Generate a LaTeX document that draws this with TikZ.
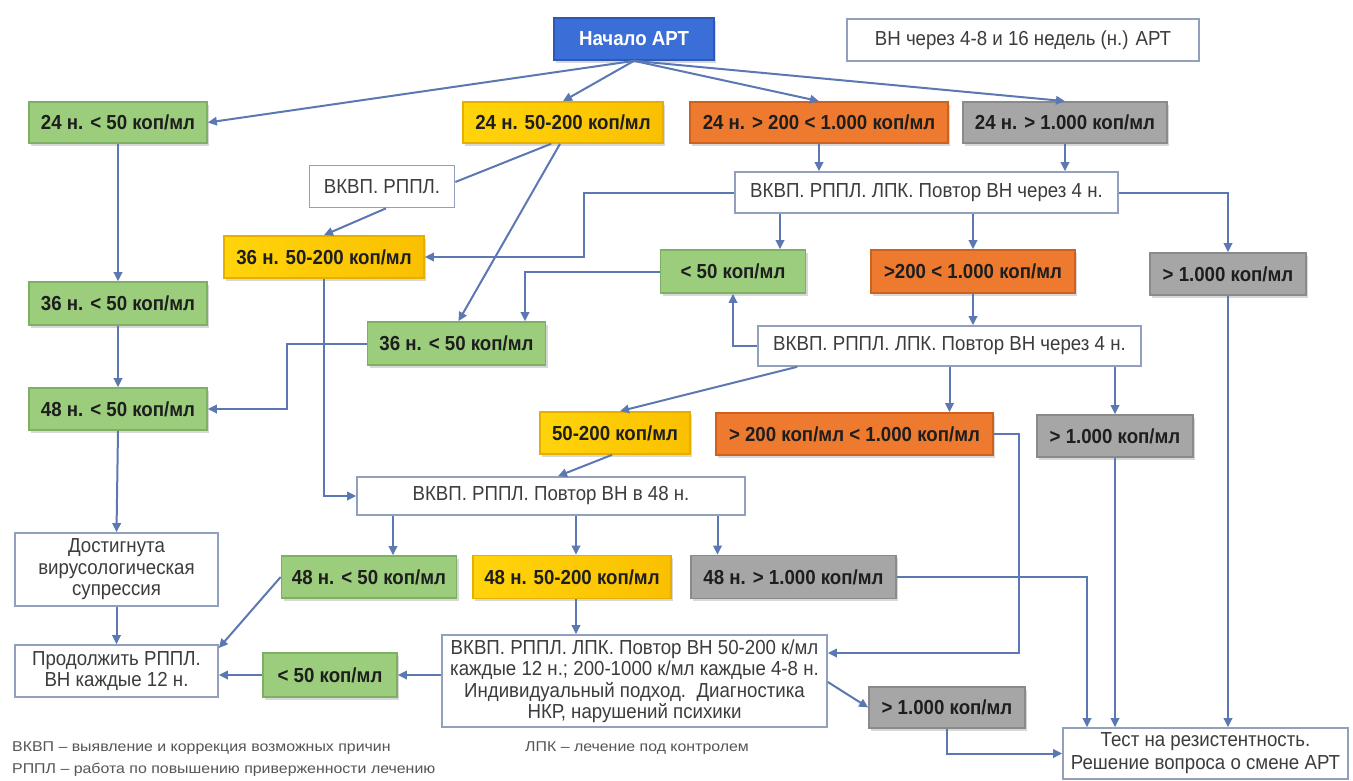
\documentclass[tikz,border=0pt]{standalone}
\usepackage{fontspec}
\setmainfont{Liberation Sans}[FakeStretch=0.92]
\newfontfamily\legfont{Liberation Sans}[FakeStretch=1.12]
\usetikzlibrary{arrows.meta,shadows}
\definecolor{cgreen}{RGB}{155,205,125}
\definecolor{cgreenb}{RGB}{125,175,100}
\definecolor{cyellow}{RGB}{255,212,10}
\definecolor{cyellow2}{RGB}{250,192,0}
\definecolor{cyellowb}{RGB}{230,175,0}
\definecolor{corange}{RGB}{238,122,48}
\definecolor{corangeb}{RGB}{205,98,32}
\definecolor{cgray}{RGB}{166,166,166}
\definecolor{cgrayb}{RGB}{138,138,138}
\definecolor{cblue}{RGB}{60,110,215}
\definecolor{cblueb}{RGB}{45,88,180}
\definecolor{cline}{RGB}{92,120,178}
\definecolor{cwb}{RGB}{145,160,188}
\definecolor{ctext}{RGB}{30,30,30}
\definecolor{cwtext}{RGB}{60,60,60}
\definecolor{clegend}{RGB}{85,85,85}
\newcommand\myfs{\fontsize{20.3}{21.5}\selectfont}
\tikzset{
  base/.style={inner sep=0pt, align=center, line width=1.7pt, font=\myfs},
  colbox/.style={base, font=\bfseries\myfs, text=ctext,
    drop shadow={shadow xshift=2pt, shadow yshift=-2.5pt, opacity=0.3}},
  gbox/.style={colbox, fill=cgreen, draw=cgreenb},
  ybox/.style={colbox, left color=cyellow, right color=cyellow2, draw=cyellowb},
  obox/.style={colbox, fill=corange, draw=corangeb},
  grbox/.style={colbox, fill=cgray, draw=cgrayb},
  wbox/.style={base, fill=white, draw=cwb, text=cwtext},
  arr/.style={draw=cline, line width=2pt, -{Triangle[length=9pt,width=8.5pt]}},
  ln/.style={draw=cline, line width=2pt},
  legend/.style={inner sep=0pt, anchor=west, text=clegend, font=\legfont\fontsize{14.2}{18}\selectfont},
}
\begin{document}
\begin{tikzpicture}[x=1pt,y=-1pt]
\useasboundingbox (0,0) rectangle (1353,780);
\fill[white] (0,0) rectangle (1353,780);

% row 1
\node[colbox, fill=cblue, draw=cblueb, text=white, minimum width=160pt, minimum height=42pt] (start) at (634,39) {Начало АРТ};
\node[wbox, minimum width=352pt, minimum height=42pt] (info) at (1023,40) {ВН через 4-8 и 16 недель (н.) АРТ};

% row 2
\node[gbox, minimum width=178pt, minimum height=41pt] (g24) at (118,122.5) {24 н. < 50 коп/мл};
\node[ybox, minimum width=200pt, minimum height=41pt] (y24) at (563,122.5) {24 н. 50-200 коп/мл};
\node[obox, minimum width=258pt, minimum height=41pt] (o24) at (819,122.5) {24 н. > 200 < 1.000 коп/мл};
\node[grbox, minimum width=204pt, minimum height=41pt] (gr24) at (1065,122.5) {24 н. > 1.000 коп/мл};

% row 3
\node[wbox, minimum width=145pt, minimum height=42pt] (vk1) at (382,186.5) {ВКВП. РППЛ.};
\node[wbox, minimum width=383pt, minimum height=41pt] (vk2) at (926.5,192.5) {ВКВП. РППЛ. ЛПК. Повтор ВН через 4 н.};

% row 4
\node[ybox, minimum width=200pt, minimum height=42pt] (y36) at (324,257) {36 н. 50-200 коп/мл};
\node[gbox, minimum width=145pt, minimum height=43pt] (g50a) at (733,271.5) {< 50 коп/мл};
\node[obox, minimum width=204pt, minimum height=43pt] (o200a) at (973,271.5) {>200 < 1.000 коп/мл};
\node[grbox, minimum width=156pt, minimum height=42pt] (gr1000a) at (1228,274) {> 1.000 коп/мл};

\node[gbox, minimum width=178pt, minimum height=43pt] (g36a) at (118,303.5) {36 н. < 50 коп/мл};
\node[gbox, minimum width=178pt, minimum height=43pt] (g36b) at (456.5,343.5) {36 н. < 50 коп/мл};
\node[wbox, minimum width=383pt, minimum height=40pt] (vk3) at (949.5,346) {ВКВП. РППЛ. ЛПК. Повтор ВН через 4 н.};

\node[gbox, minimum width=178pt, minimum height=42pt] (g48a) at (118,409) {48 н. < 50 коп/мл};
\node[ybox, minimum width=150pt, minimum height=42pt] (y50) at (615,433) {50-200 коп/мл};
\node[obox, minimum width=277pt, minimum height=42pt] (o200b) at (854.5,434) {> 200 коп/мл < 1.000 коп/мл};
\node[grbox, minimum width=156pt, minimum height=42pt] (gr1000b) at (1115,436) {> 1.000 коп/мл};

\node[wbox, minimum width=388pt, minimum height=38pt] (vk48) at (551,496) {ВКВП. РППЛ. Повтор ВН в 48 н.};

\node[wbox, minimum width=203pt, minimum height=73pt] (dost) at (116.5,569.5) {Достигнута\\вирусологическая\\супрессия};
\node[gbox, minimum width=175pt, minimum height=42pt] (g48b) at (369,577) {48 н. < 50 коп/мл};
\node[ybox, minimum width=198pt, minimum height=43pt] (y48) at (572,577) {48 н. 50-200 коп/мл};
\node[grbox, minimum width=205pt, minimum height=43pt] (gr48) at (793.5,577) {48 н. > 1.000 коп/мл};

\node[wbox, minimum width=203pt, minimum height=52pt] (prod) at (116.5,671) {Продолжить РППЛ.\\ВН каждые 12 н.};
\node[gbox, minimum width=134pt, minimum height=44pt] (g50b) at (330,675) {< 50 коп/мл};
\node[wbox, minimum width=385pt, minimum height=92pt] (big) at (634.5,681) {ВКВП. РППЛ. ЛПК. Повтор ВН 50-200 к/мл\\каждые 12 н.; 200-1000 к/мл каждые 4-8 н.\\Индивидуальный подход.\ \ Диагностика\\НКР, нарушений психики};
\node[grbox, minimum width=156pt, minimum height=41pt] (gr1000c) at (947,707.5) {> 1.000 коп/мл};
\node[wbox, minimum width=285pt, minimum height=51pt, font=\fontsize{20.3}{23}\selectfont] (test) at (1205.5,753.5) {Тест на резистентность.\\Решение вопроса о смене АРТ};

% legend
\node[legend] (leg1) at (12,748) {ВКВП – выявление и коррекция возможных причин};
\node[legend] (leg2) at (525,748) {ЛПК – лечение под контролем};
\node[legend] (leg3) at (12,770) {РППЛ – работа по повышению приверженности лечению};

% connectors from start
\draw[arr] (start.south) -- (g24.east);
\draw[arr] (start.south) -- (y24.north);
\draw[arr] (start.south) -- (o24.north);
\draw[arr] (start.south) -- (gr24.north);

% left column
\draw[arr] (g24.south) -- (g36a.north);
\draw[arr] (g36a.south) -- (g48a.north);
\draw[arr] (g48a.south) -- (dost.north);
\draw[arr] (dost.south) -- (prod.north);

% yellow 24 branch
\draw[ln] ([xshift=-12pt]y24.south) -- ([yshift=4.5pt]vk1.east);
\draw[arr] ([xshift=4pt]vk1.south) -- (y36.north);
\draw[arr] ([xshift=-3pt]y24.south) -- ([xshift=2pt]g36b.north);

% orange / gray 24
\draw[arr] (o24.south) -- (o24.south |- vk2.north);
\draw[arr] (gr24.south) -- (gr24.south |- vk2.north);
\draw[arr] (vk2.west) -- ++(-150,0) |- (y36.east);
\draw[arr] ([xshift=47pt]g50a.north |- vk2.south) -- ([xshift=47pt]g50a.north);
\draw[arr] (o200a.north |- vk2.south) -- (o200a.north);
\draw[arr] (vk2.east) -| (gr1000a.north);

% row 4 links
\draw[arr] (g50a.west) -| ([xshift=68.5pt]g36b.north);
\draw[arr] (vk3.west) -| (g50a.south);
\draw[arr] (o200a.south) -- (o200a.south |- vk3.north);
\draw[arr] (g36b.west) -- ++(-80,0) |- (g48a.east);
\draw[arr] (y36.south) |- (vk48.west);

% from vk3
\draw[arr] ([xshift=40pt]vk3.south west) -- ([xshift=5pt]y50.north);
\draw[arr] (vk3.south) -- (vk3.south |- o200b.north);
\draw[arr] (gr1000b.north |- vk3.south) -- (gr1000b.north);
\draw[arr] ([xshift=-3pt]y50.south) -- ([xshift=7pt]vk48.north);

% to test / big
\draw[arr] (o200b.east) -- ++(25,0) |- ([yshift=28pt]big.east);
\draw[arr] (gr1000b.south) -- (gr1000b.south |- test.north);
\draw[arr] (gr1000a.south) -- (gr1000a.south |- test.north);
\draw[arr] (gr48.east) -| ([xshift=-118.5pt]test.north);

% from vk48
\draw[arr] ([xshift=24pt]g48b.north |- vk48.south) -- ([xshift=24pt]g48b.north);
\draw[arr] ([xshift=4pt]y48.north |- vk48.south) -- ([xshift=4pt]y48.north);
\draw[arr] ([xshift=-76pt]gr48.north |- vk48.south) -- ([xshift=-76pt]gr48.north);

% bottom
\draw[arr] ([xshift=4pt]y48.south) -- ([xshift=4pt]y48.south |- big.north);
\draw[arr] (g48b.west) -- ([yshift=23pt]prod.east);
\draw[arr] (big.west |- g50b.east) -- (g50b.east);
\draw[arr] (g50b.west) -- (g50b.west -| prod.east);
\draw[arr] ([yshift=-1pt]big.east) -- (gr1000c.west);
\draw[arr] (gr1000c.south) |- (test.west);
\end{tikzpicture}
\end{document}
